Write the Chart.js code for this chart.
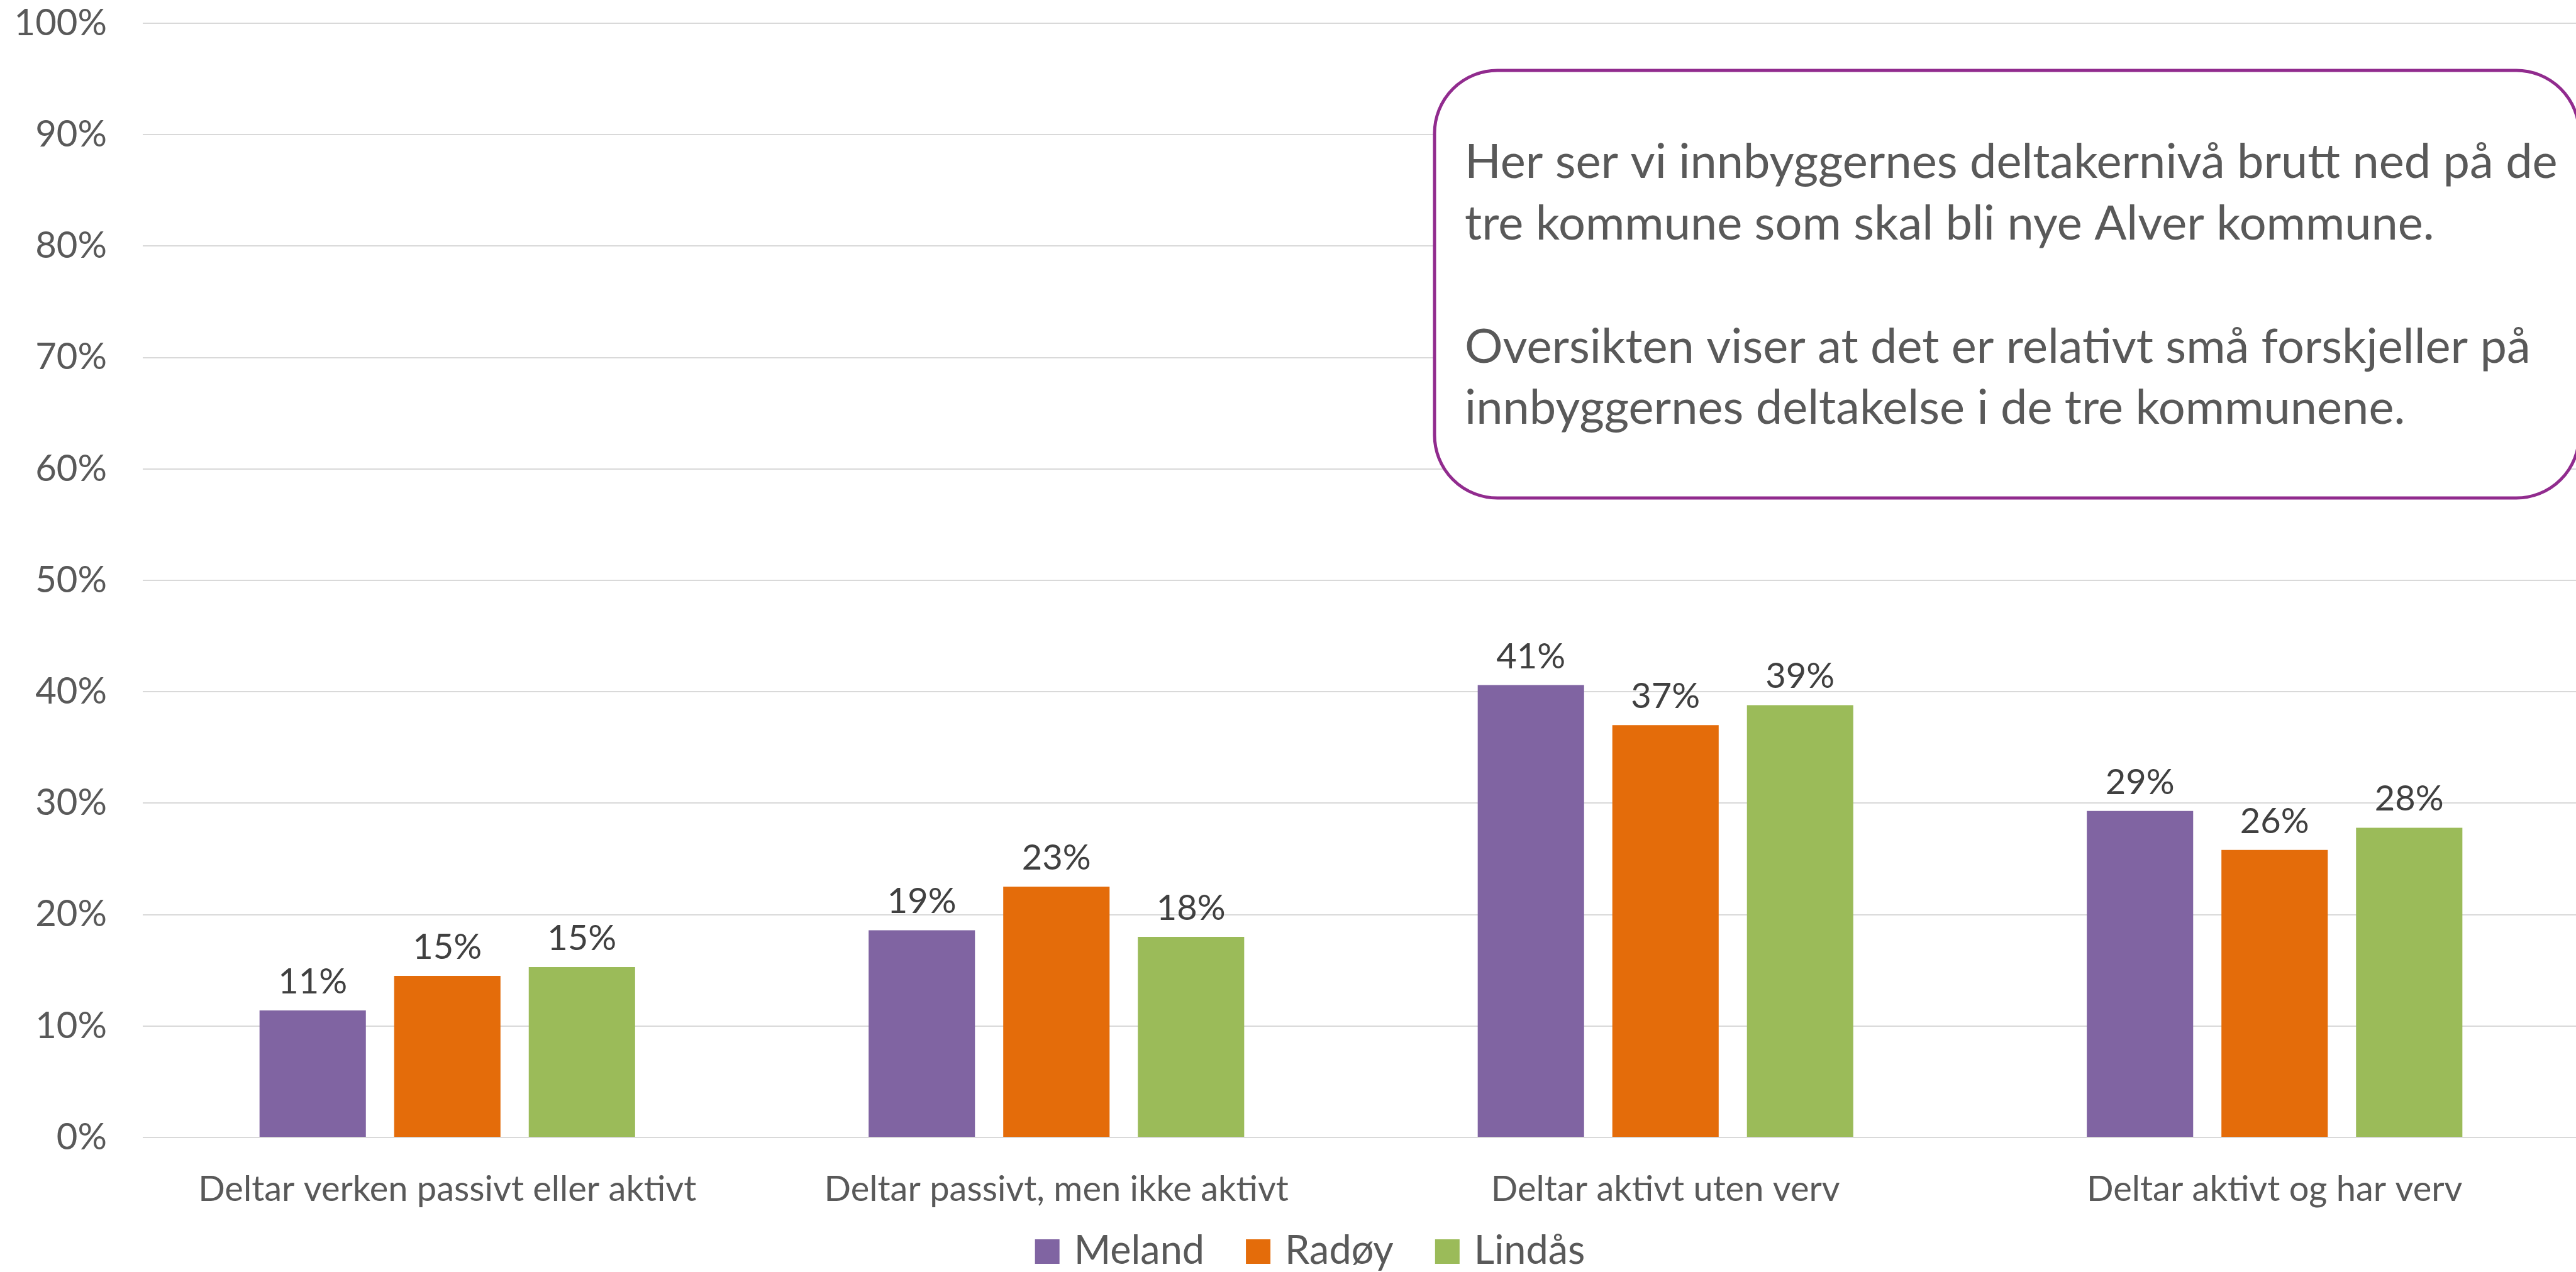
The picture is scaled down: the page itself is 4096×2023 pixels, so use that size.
<!DOCTYPE html>
<html>
<head>
<meta charset="utf-8">
<script src="https://cdn.jsdelivr.net/npm/chart.js@4"></script>
<style>
html,body{margin:0;padding:0;overflow:hidden;background:#fff;}
#wrap{width:4101px;height:2023px;}
</style>
</head>
<body>
<div id="wrap"><canvas id="c" width="4101" height="2023" style="width:4101px;height:2023px"></canvas></div>
<script>
// ---- data ----
const categories = [
  "Deltar verken passivt eller aktivt",
  "Deltar passivt, men ikke aktivt",
  "Deltar aktivt uten verv",
  "Deltar aktivt og har verv"
];
const seriesNames = ["Meland", "Radøy", "Lindås"];
const meland = [11.4, 18.6, 40.6, 29.3];
const radoy  = [14.5, 22.5, 37.0, 25.8];
const lindas = [15.3, 18.0, 38.8, 27.8];
const yMin = 0, yMax = 100, yStep = 10;
const noteLines = [
  "Her ser vi innbyggernes deltakernivå brutt ned på de",
  "tre kommune som skal bli nye Alver kommune.",
  "",
  "Oversikten viser at det er relativt små forskjeller på",
  "innbyggernes deltakelse i de tre kommunene."
];

// ---- style ----
const FONT = "Lato, 'Open Sans', sans-serif";
const colors = ["#8064A2", "#E46C0A", "#9BBB59"];
const seriesData = [meland, radoy, lindas];

const valueLabels = {
  id: 'valueLabels',
  afterDatasetsDraw(chart) {
    const ctx = chart.ctx;
    ctx.save();
    ctx.font = "56px " + FONT;
    ctx.fillStyle = "#404040";
    ctx.textAlign = "center";
    ctx.textBaseline = "alphabetic";
    chart.data.datasets.forEach((ds, i) => {
      chart.getDatasetMeta(i).data.forEach((bar, j) => {
        ctx.fillText(Math.round(ds.data[j]) + "%", bar.x, bar.y - 27);
      });
    });
    ctx.restore();
  }
};

const customLegend = {
  id: 'customLegend',
  afterDraw(chart) {
    const ctx = chart.ctx;
    ctx.save();
    ctx.font = "63px " + FONT;
    ctx.textBaseline = "alphabetic";
    ctx.textAlign = "left";
    const box = 39, gapBT = 23, gapItem = 66;
    const items = chart.data.datasets.map(ds => ({label: ds.label, color: ds.backgroundColor, w: ctx.measureText(ds.label).width}));
    let total = 0;
    items.forEach((it, k) => { total += box + gapBT + it.w + (k < items.length - 1 ? gapItem : 0); });
    let x = 2083 - total / 2;
    const base = 2010;
    items.forEach(it => {
      ctx.fillStyle = it.color;
      ctx.fillRect(x, base - box, box, box);
      x += box + gapBT;
      ctx.fillStyle = "#595959";
      ctx.fillText(it.label, x, base);
      x += it.w + gapItem;
    });
    ctx.restore();
  }
};

const noteBox = {
  id: 'noteBox',
  afterDraw(chart) {
    const ctx = chart.ctx;
    ctx.save();
    const x = 2281, y = 112, r = 100, right = 4101, bottom = 792;
    ctx.beginPath();
    ctx.moveTo(x + r, y);
    ctx.lineTo(right - r, y);
    ctx.arcTo(right, y, right, y + r, r);
    ctx.lineTo(right, bottom - r);
    ctx.arcTo(right, bottom, right - r, bottom, r);
    ctx.lineTo(x + r, bottom);
    ctx.arcTo(x, bottom, x, bottom - r, r);
    ctx.lineTo(x, y + r);
    ctx.arcTo(x, y, x + r, y, r);
    ctx.closePath();
    ctx.fillStyle = "#ffffff";
    ctx.fill();
    ctx.lineWidth = 5;
    ctx.strokeStyle = "#912B8E";
    ctx.stroke();
    let size = 70;
    ctx.font = size + "px " + FONT;
    const w = ctx.measureText(noteLines[0]).width;
    size = size * 1738 / w;
    ctx.font = size.toFixed(1) + "px " + FONT;
    ctx.fillStyle = "#595959";
    ctx.textAlign = "left";
    ctx.textBaseline = "alphabetic";
    const baselines = [283, 381, 479, 577, 674];
    noteLines.forEach((t, i) => { if (t) ctx.fillText(t, 2329, baselines[i]); });
    ctx.restore();
  }
};

new Chart(document.getElementById('c'), {
  type: 'bar',
  data: {
    labels: categories,
    datasets: seriesNames.map((n, i) => ({
      label: n,
      data: seriesData[i],
      backgroundColor: colors[i],
      borderWidth: 0,
      categoryPercentage: 0.663,
      barPercentage: 0.79
    }))
  },
  options: {
    responsive: false,
    animation: false,
    devicePixelRatio: 1,
    layout: { padding: { top: 37, right: 0, bottom: 0, left: 0 } },
    plugins: {
      legend: { display: false },
      tooltip: { enabled: false },
      title: { display: false }
    },
    scales: {
      x: {
        grid: { display: false, drawTicks: false },
        border: { display: false },
        ticks: {
          color: "#595959",
          font: { family: FONT, size: 56, lineHeight: 1 },
          padding: 55,
          maxRotation: 0,
          autoSkip: false
        },
        afterFit(s) { s.height = 2023 - 1809; s.paddingLeft = 0; s.paddingRight = 0; }
      },
      y: {
        min: yMin, max: yMax,
        grid: { color: "#D9D9D9", lineWidth: 2, drawTicks: false },
        border: { display: false },
        ticks: {
          stepSize: yStep,
          color: "#595959",
          font: { family: FONT, size: 58, lineHeight: 1 },
          padding: 57,
          callback: v => v + "%"
        },
        afterFit(s) { s.width = 227; s.paddingTop = 0; s.paddingBottom = 0; }
      }
    }
  },
  plugins: [valueLabels, customLegend, noteBox]
});
</script>
</body>
</html>
